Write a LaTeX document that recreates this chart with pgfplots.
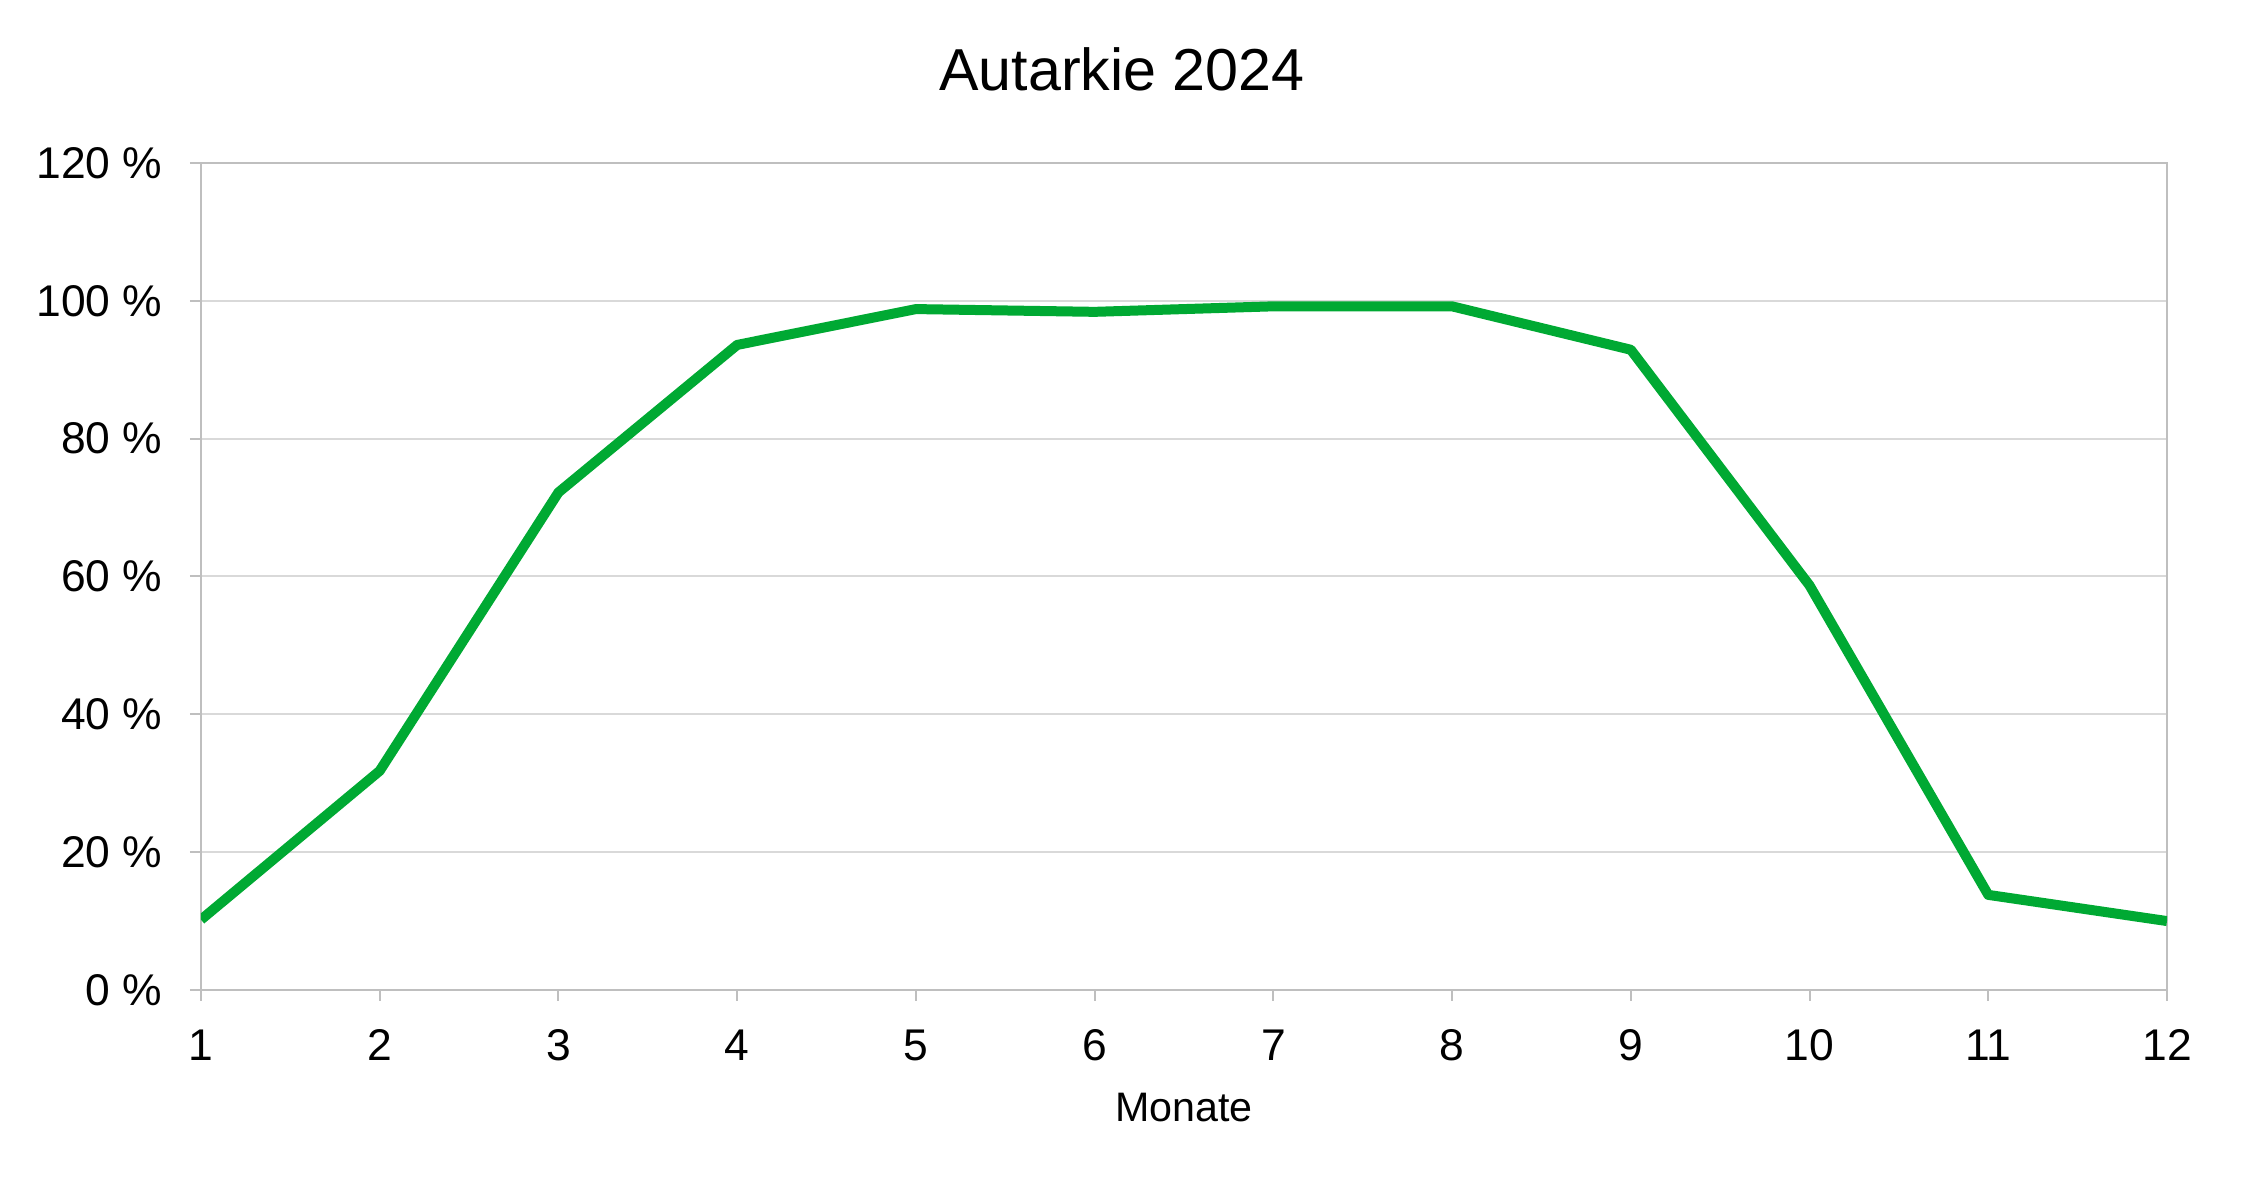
\documentclass[border=0pt]{standalone}
\usepackage{pgfplots}
\pgfplotsset{compat=1.18}
\usepackage{fontspec}
\setmainfont{Liberation Sans}
\definecolor{lgreen}{HTML}{00A933}
\definecolor{gridgray}{HTML}{D9D9D9}
\definecolor{axgray}{HTML}{BFBFBF}
\begin{document}
\begin{tikzpicture}
\begin{axis}[
  scale only axis,
  width=491.5pt, height=206.75pt,
  xmin=1, xmax=12, ymin=0, ymax=120,
  xtick={1,...,12}, ytick={0,20,...,120},
  /pgf/number format/assume math mode=true,
  yticklabel={\pgfmathprintnumber{\tick}~\%},
  ymajorgrids, major grid style={gridgray, line width=0.5pt},
  axis line style={axgray, line width=0.5pt},
  tick style={axgray, line width=0.5pt},
  tick align=outside, major tick length=2.75pt,
  xtick pos=bottom, ytick pos=left,
  ticklabel style={font=\fontsize{11.1}{13}\selectfont},
  yticklabel style={xshift=-3.4pt},
  xticklabel style={yshift=-3.6pt},
  title={Autarkie 2024},
  title style={at={(0.5,1)}, anchor=center, xshift=-15.5pt, yshift=17.4pt, font=\fontsize{14.8}{17}\selectfont},
  xlabel={Monate},
  xlabel style={at={(axis description cs:0.5,0)}, anchor=center, yshift=-29.5pt, font=\fontsize{10.3}{12}\selectfont},
]
\addplot[lgreen, line width=2.5pt, line join=round] coordinates {
  (1,10.2) (2,31.8) (3,72.2) (4,93.6) (5,98.8) (6,98.4)
  (7,99.2) (8,99.2) (9,92.9) (10,58.7) (11,13.8) (12,10.0)
};
\end{axis}
\pgfresetboundingbox
\path (current axis.south west) ++(-50.25pt,-51.5pt) coordinate (bl);
\path (current axis.north east) ++(20.75pt,40.75pt) coordinate (tr);
\path[use as bounding box] (bl) rectangle (tr);
\end{tikzpicture}
\end{document}
